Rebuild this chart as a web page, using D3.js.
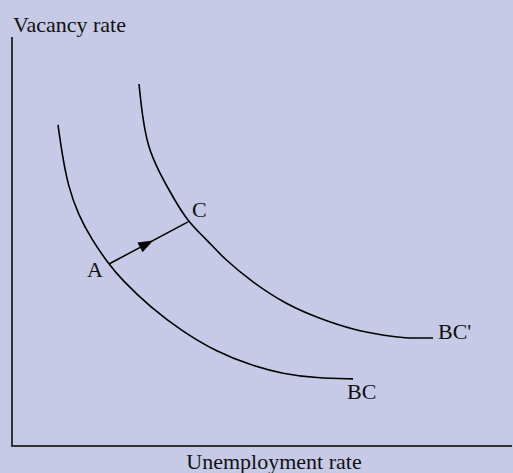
<!DOCTYPE html>
<html>
<head>
<meta charset="utf-8">
<script src="https://cdn.jsdelivr.net/npm/d3@7"></script>
<style>
  html, body { margin: 0; padding: 0; background: #c6cae6; }
  svg { display: block; }
</style>
</head>
<body>
<div id="chart"></div>
<script>
const W = 513, H = 473
const MARGIN = { LEFT: 12, RIGHT: 1, TOP: 37, BOTTOM: 27 }

// Curve data (unemployment, vacancy), 0..100 units
const bcU = [9.2, 10.0, 11.2, 13.3, 15.9, 19.2, 22.0, 27.6, 34.2, 41.0, 47.6, 54.2, 61.0, 68.2]
const bcV = [78.5, 71.6, 63.6, 56.4, 50.6, 44.7, 40.6, 34.0, 27.9, 23.0, 19.8, 17.6, 16.6, 16.4]
const bcPrimeU = [25.4, 26.0, 27.1, 29.4, 32.3, 35.2, 39.0, 42.2, 48.2, 55.0, 61.6, 68.2, 75.0, 78.2, 84.2]
const bcPrimeV = [88.5, 81.4, 73.3, 67.0, 60.6, 54.8, 50.4, 46.0, 39.9, 34.5, 31.1, 28.4, 26.9, 26.4, 26.4]
const curveNames = ["BC", "BC'"]

// Points A (on BC) and C (on BC')
const pointNames = ["A", "C"]
const pointU = [19.4, 35.2]
const pointV = [44.5, 54.8]

const xTitle = "Unemployment rate"
const yTitle = "Vacancy rate"

const svg = d3.select("#chart").append("svg")
    .attr("width", W)
    .attr("height", H)

svg.append("rect")
    .attr("width", W).attr("height", H)
    .attr("fill", "#c6cae6")

const x = d3.scaleLinear()
    .domain([0, 100])
    .range([MARGIN.LEFT, W - MARGIN.RIGHT])
const y = d3.scaleLinear()
    .domain([0, 100])
    .range([H - MARGIN.BOTTOM, MARGIN.TOP])

const FONT = "'Liberation Serif', 'Times New Roman', serif"
const FS = "22px"

// Axes (plain lines, no ticks)
svg.append("line")
    .attr("x1", x(0)).attr("x2", x(0))
    .attr("y1", y(100)).attr("y2", y(0))
    .attr("stroke", "#333").attr("stroke-width", 2)
svg.append("line")
    .attr("x1", x(0) - 1).attr("x2", x(100))
    .attr("y1", y(0)).attr("y2", y(0))
    .attr("stroke", "#333").attr("stroke-width", 2)

svg.append("text")
    .attr("x", x(0) + 1)
    .attr("y", 32)
    .attr("font-family", FONT)
    .attr("font-size", FS)
    .attr("fill", "#111")
    .text(yTitle)
svg.append("text")
    .attr("x", 274)
    .attr("y", 469)
    .attr("text-anchor", "middle")
    .attr("font-family", FONT)
    .attr("font-size", FS)
    .attr("fill", "#111")
    .text(xTitle)

// Curves
const curves = [
    bcU.map((u, i) => [u, bcV[i]]),
    bcPrimeU.map((u, i) => [u, bcPrimeV[i]])
]
const line = d3.line()
    .x(d => x(d[0]))
    .y(d => y(d[1]))
    .curve(d3.curveBasis)

svg.selectAll("path.curve")
    .data(curves)
    .enter().append("path")
    .attr("class", "curve")
    .attr("d", line)
    .attr("fill", "none")
    .attr("stroke", "#000")
    .attr("stroke-width", 1.6)

// Curve labels at the right ends
const labelOffsets = [[-6, 20], [5, 1]]
svg.selectAll("text.curve-label")
    .data(curves)
    .enter().append("text")
    .attr("class", "curve-label")
    .attr("x", (d, i) => x(d[d.length - 1][0]) + labelOffsets[i][0])
    .attr("y", (d, i) => y(d[d.length - 1][1]) + labelOffsets[i][1])
    .attr("font-family", FONT)
    .attr("font-size", FS)
    .attr("fill", "#111")
    .text((d, i) => curveNames[i])

// Arrow A -> C
const ax = x(pointU[0]), ay = y(pointV[0])
const cx = x(pointU[1]), cy = y(pointV[1])
svg.append("line")
    .attr("x1", ax).attr("y1", ay)
    .attr("x2", cx).attr("y2", cy)
    .attr("stroke", "#000").attr("stroke-width", 1.5)

const len = Math.hypot(cx - ax, cy - ay)
const ux = (cx - ax) / len, uy = (cy - ay) / len
const tipX = ax + ux * len * 0.56, tipY = ay + uy * len * 0.56
const headL = 15, headW = 5.5
svg.append("path")
    .attr("d", `M${tipX},${tipY}`
        + `L${tipX - ux * headL - uy * headW},${tipY - uy * headL + ux * headW}`
        + `L${tipX - ux * headL + uy * headW},${tipY - uy * headL - ux * headW}Z`)
    .attr("fill", "#000")

// Point labels
const pointOffsets = [[-22, 13], [4, -5]]
svg.selectAll("text.point-label")
    .data(pointNames)
    .enter().append("text")
    .attr("class", "point-label")
    .attr("x", (d, i) => x(pointU[i]) + pointOffsets[i][0])
    .attr("y", (d, i) => y(pointV[i]) + pointOffsets[i][1])
    .attr("font-family", FONT)
    .attr("font-size", FS)
    .attr("fill", "#111")
    .text(d => d)
</script>
</body>
</html>
